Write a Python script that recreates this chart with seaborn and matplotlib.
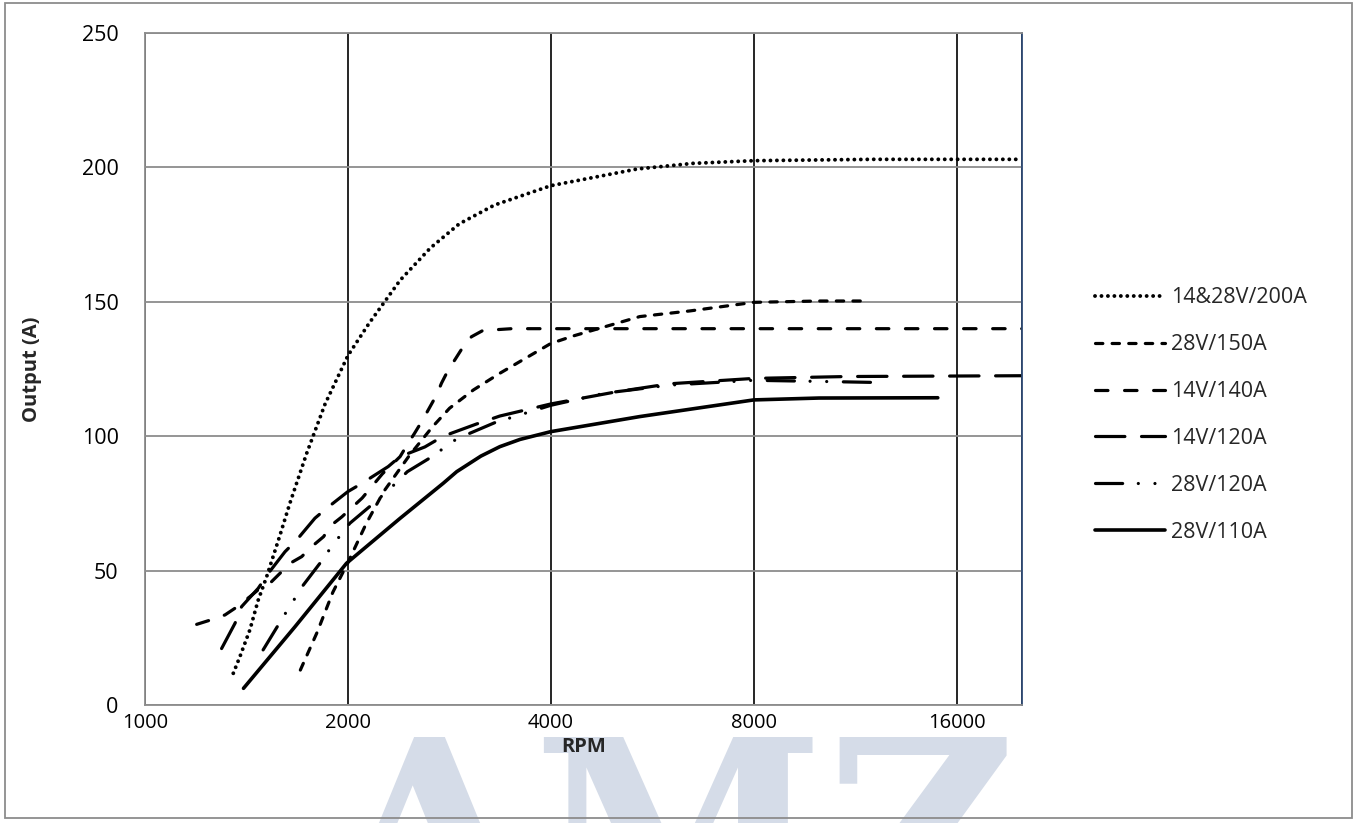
import matplotlib
matplotlib.use("Agg")
import matplotlib.pyplot as plt
from matplotlib.patches import Rectangle
from matplotlib.ticker import FixedLocator, FixedFormatter, NullLocator
import seaborn as sns
import pandas as pd

# --- values (RPM, output in A) ---
rpm_200 = [1352, 1383, 1431, 1472, 1515, 1585, 1640, 1737, 1850, 2000, 2150, 2390,
           2650, 2925, 3300, 4000, 5370, 6500, 8000, 12000, 20000]
amp_200 = [11.8, 18, 28, 39, 47.7, 63, 75, 93.6, 112, 130, 142, 158,
           170, 179, 186, 193.2, 199.4, 201.5, 202.5, 203, 203]

rpm_150 = [1700, 1800, 1900, 2000, 2130, 2260, 2470, 2670, 2830, 3070, 3360, 4000,
           4320, 5420, 6430, 8000, 10000, 11750]
amp_150 = [13, 27, 42, 53, 67.6, 79.4, 93, 103.5, 110.4, 117.2, 123.4, 134.5,
           137.3, 144.5, 146.6, 149.8, 150.3, 150.3]

rpm_140 = [1193, 1250, 1314, 1360, 1431, 1481, 1541, 1586, 1641, 1708, 1767, 1840,
           1892, 1959, 2100, 2250, 2390, 2457, 2510, 2581, 2640, 2707, 2753, 2817,
           2880, 2965, 3050, 3170, 3500, 4000, 8000, 20000]
amp_140 = [30, 31.6, 33.5, 36, 40.3, 43.4, 45.9, 49, 52.7, 55.2, 58.9, 62.6,
           67, 70, 77, 86, 92.4, 97.4, 101, 106, 110.4, 115.3, 119.7, 124.6,
           128.3, 133.3, 137, 139.3, 140, 140, 140, 140]

rpm_120_14 = [1299, 1360, 1391, 1472, 1524, 1613, 1679, 1787, 1860, 2000, 2096, 2295,
              2389, 2601, 2770, 3100, 3360, 4000, 5000, 6000, 8000, 11000, 20000]
amp_120_14 = [21, 30.4, 36.6, 43.4, 49, 57, 61.4, 69.5, 73.2, 79.4, 82.4, 88.7,
              92.4, 96, 100, 104.5, 107.5, 112, 116.5, 119.5, 121.5, 122.2, 122.5]

rpm_120_28 = [1497, 1577, 1621, 1669, 1717, 1825, 1880, 1947, 2013, 2168, 2300, 2450,
              2650, 2900, 3300, 4000, 4810, 6000, 8000, 10470, 12100]
amp_120_28 = [20.5, 29.8, 34.7, 39.7, 44.6, 53.3, 58, 63, 67.6, 74.4, 80, 86.8,
              92, 99, 105, 111.5, 116, 119, 120.8, 120.3, 120]

rpm_110 = [1400, 1669, 1990, 2389, 2770, 2900, 3150, 3360, 3600, 4000, 5420, 8000,
           10000, 15000]
amp_110 = [6.2, 29.1, 52.7, 69.4, 82.5, 86.8, 92.6, 96.1, 98.8, 101.7, 107.3, 113.5,
           114.2, 114.3]

labels = ["14&28V/200A", "28V/150A", "14V/140A", "14V/120A", "28V/120A", "28V/110A"]
x_ticks = [1000, 2000, 4000, 8000, 16000, 20000]
x_tick_labels = ["1000", "2000", "4000", "8000", "16000", ""]
y_ticks = [0, 50, 100, 150, 200, 250]

series = [
    (rpm_200, amp_200),
    (rpm_150, amp_150),
    (rpm_140, amp_140),
    (rpm_120_14, amp_120_14),
    (rpm_120_28, amp_120_28),
    (rpm_110, amp_110),
]

# line styles (dash patterns are in linewidth units)
styles = [
    dict(linestyle=(0, (0.01, 1.65)), lw=2.8),
    dict(linestyle=(0, (2.3, 2.9)), lw=2.3),
    dict(linestyle=(0, (3.9, 5.2)), lw=2.3),
    dict(linestyle=(0, (9.2, 5.2)), lw=2.3),
    dict(linestyle=(0, (8.5, 4.9, 0.01, 5.2, 0.01, 5.2)), lw=2.3),
    dict(linestyle="-", lw=2.6),
]

sns.set_style("white")
plt.rcParams["font.family"] = ["Open Sans", "DejaVu Sans"]

fig = plt.figure(figsize=(13.59, 8.23), dpi=100)
ax = fig.add_axes([145 / 1359, 1 - 705 / 823, (1022 - 145) / 1359, (705 - 33) / 823])

# watermark behind everything
fig.text(0.495, -0.197, "AMZ", fontsize=190, family="DejaVu Serif", weight="bold",
         color="#d5dce8", ha="center", va="bottom", zorder=-1)

for (xs, ys), lab, st in zip(series, labels, styles):
    df = pd.DataFrame({"RPM": xs, "Output": ys})
    sns.lineplot(data=df, x="RPM", y="Output", ax=ax, color="black", label=lab,
                 sort=False, estimator=None, dash_capstyle="round",
                 solid_capstyle="round", **st)

ax.set_xscale("log", base=2)
ax.set_xlim(1000, 20000)
ax.set_ylim(0, 250)
ax.xaxis.set_major_locator(FixedLocator(x_ticks))
ax.xaxis.set_major_formatter(FixedFormatter(x_tick_labels))
ax.xaxis.set_minor_locator(NullLocator())
ax.set_yticks(y_ticks)

ax.grid(axis="y", color="#8c8c8c", lw=1.3)
ax.grid(axis="x", color="black", lw=1.2)
ax.set_axisbelow(True)

for side in ["left", "bottom", "top"]:
    ax.spines[side].set_color("#8c8c8c")
    ax.spines[side].set_linewidth(1.3)
ax.spines["right"].set_color("#2e4a74")
ax.spines["right"].set_linewidth(1.3)

ax.tick_params(axis="x", which="major", direction="out", length=4.5, width=1.2,
               color="#8c8c8c", labelsize=14.5, labelcolor="black", pad=1)
ax.tick_params(axis="y", which="major", direction="out", length=6, width=1.2,
               color="#8c8c8c", labelsize=15.5, labelcolor="black", pad=13)

ax.set_xlabel("RPM", fontsize=14.5, weight="bold")
ax.set_ylabel("Output (A)", fontsize=14.5, weight="bold")
ax.xaxis.set_label_coords(0.5, -0.047)
ax.yaxis.set_label_coords(-0.117, 0.5)

handles, labs = ax.get_legend_handles_labels()
ax.legend(handles, labs, loc="center left", bbox_to_anchor=(1095 / 1359, 1 - 415 / 823),
          bbox_transform=fig.transFigure, frameon=False, fontsize=15.5,
          handlelength=3.25, handletextpad=0.3, labelspacing=1.2,
          borderpad=0, borderaxespad=0)

# outer chart border
fig.add_artist(Rectangle((5 / 1359, 5 / 823), 1347 / 1359, 815 / 823,
                         transform=fig.transFigure, fill=False,
                         edgecolor="#8c8c8c", lw=1.3, zorder=5))

fig.savefig("out.png", dpi=100)
